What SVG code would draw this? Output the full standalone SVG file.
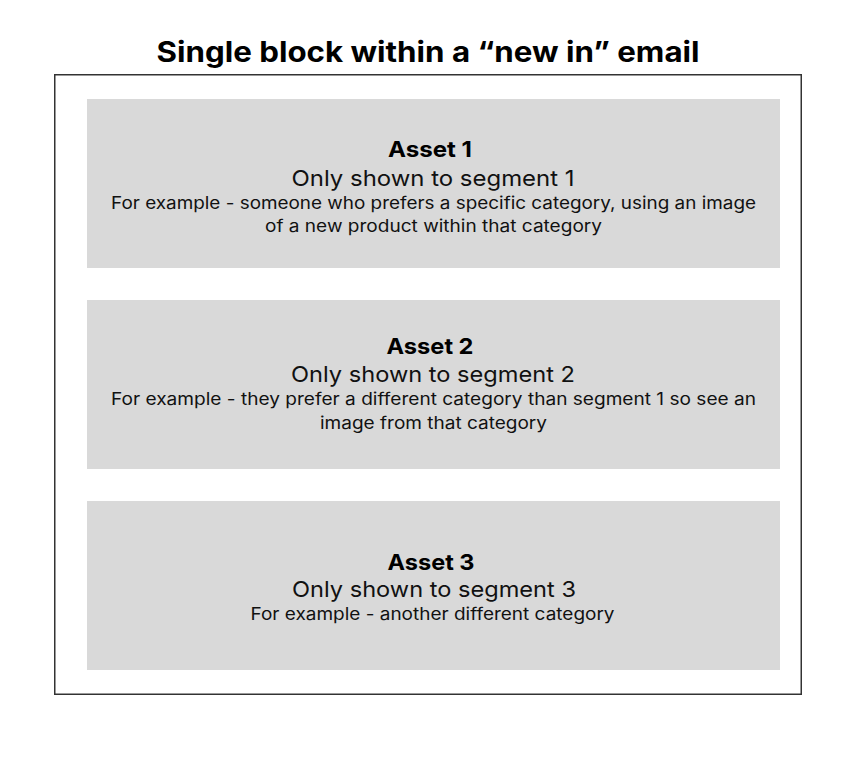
<svg xmlns="http://www.w3.org/2000/svg" width="862" height="758" viewBox="0 0 862 758">
<style>
.t{font-family:Inter,"Liberation Sans",sans-serif;fill:#000;text-anchor:middle}
.title{font-size:28px;font-weight:700}
.h{font-size:22px;font-weight:700}
.s{font-size:22px;fill:#111}
.d{font-size:17px;fill:#111}
.box{fill:#d9d9d9}
</style>
<rect x="0" y="0" width="862" height="758" fill="#fff"/>
<text class="t title" x="428" y="62" textLength="543" lengthAdjust="spacingAndGlyphs">Single block within a “new in” email</text>
<rect x="54.75" y="74.75" width="746.5" height="619.5" fill="#fff" stroke="#333" stroke-width="1.5"/>
<g id="asset1">
<rect class="box" x="87" y="99" width="693" height="169"/>
<text class="t h" x="430" y="157" textLength="84" lengthAdjust="spacingAndGlyphs">Asset 1</text>
<text class="t s" x="433" y="186" textLength="283" lengthAdjust="spacingAndGlyphs">Only shown to segment 1</text>
<text class="t d" x="433.5" y="208.5" textLength="645" lengthAdjust="spacingAndGlyphs">For example - someone who prefers a specific category, using an image</text>
<text class="t d" x="433.5" y="232" textLength="337" lengthAdjust="spacingAndGlyphs">of a new product within that category</text>
</g>
<g id="asset2">
<rect class="box" x="87" y="300" width="693" height="169"/>
<text class="t h" x="430" y="354" textLength="87" lengthAdjust="spacingAndGlyphs">Asset 2</text>
<text class="t s" x="433" y="382" textLength="284" lengthAdjust="spacingAndGlyphs">Only shown to segment 2</text>
<text class="t d" x="433.5" y="405" textLength="645" lengthAdjust="spacingAndGlyphs">For example - they prefer a different category than segment 1 so see an</text>
<text class="t d" x="433.5" y="428.5" textLength="227" lengthAdjust="spacingAndGlyphs">image from that category</text>
</g>
<g id="asset3">
<rect class="box" x="87" y="501" width="693" height="169"/>
<text class="t h" x="431" y="570" textLength="87" lengthAdjust="spacingAndGlyphs">Asset 3</text>
<text class="t s" x="434" y="597" textLength="284" lengthAdjust="spacingAndGlyphs">Only shown to segment 3</text>
<text class="t d" x="432.5" y="619.5" textLength="364" lengthAdjust="spacingAndGlyphs">For example - another different category</text>
</g>
<g id="connectors"></g>
</svg>
